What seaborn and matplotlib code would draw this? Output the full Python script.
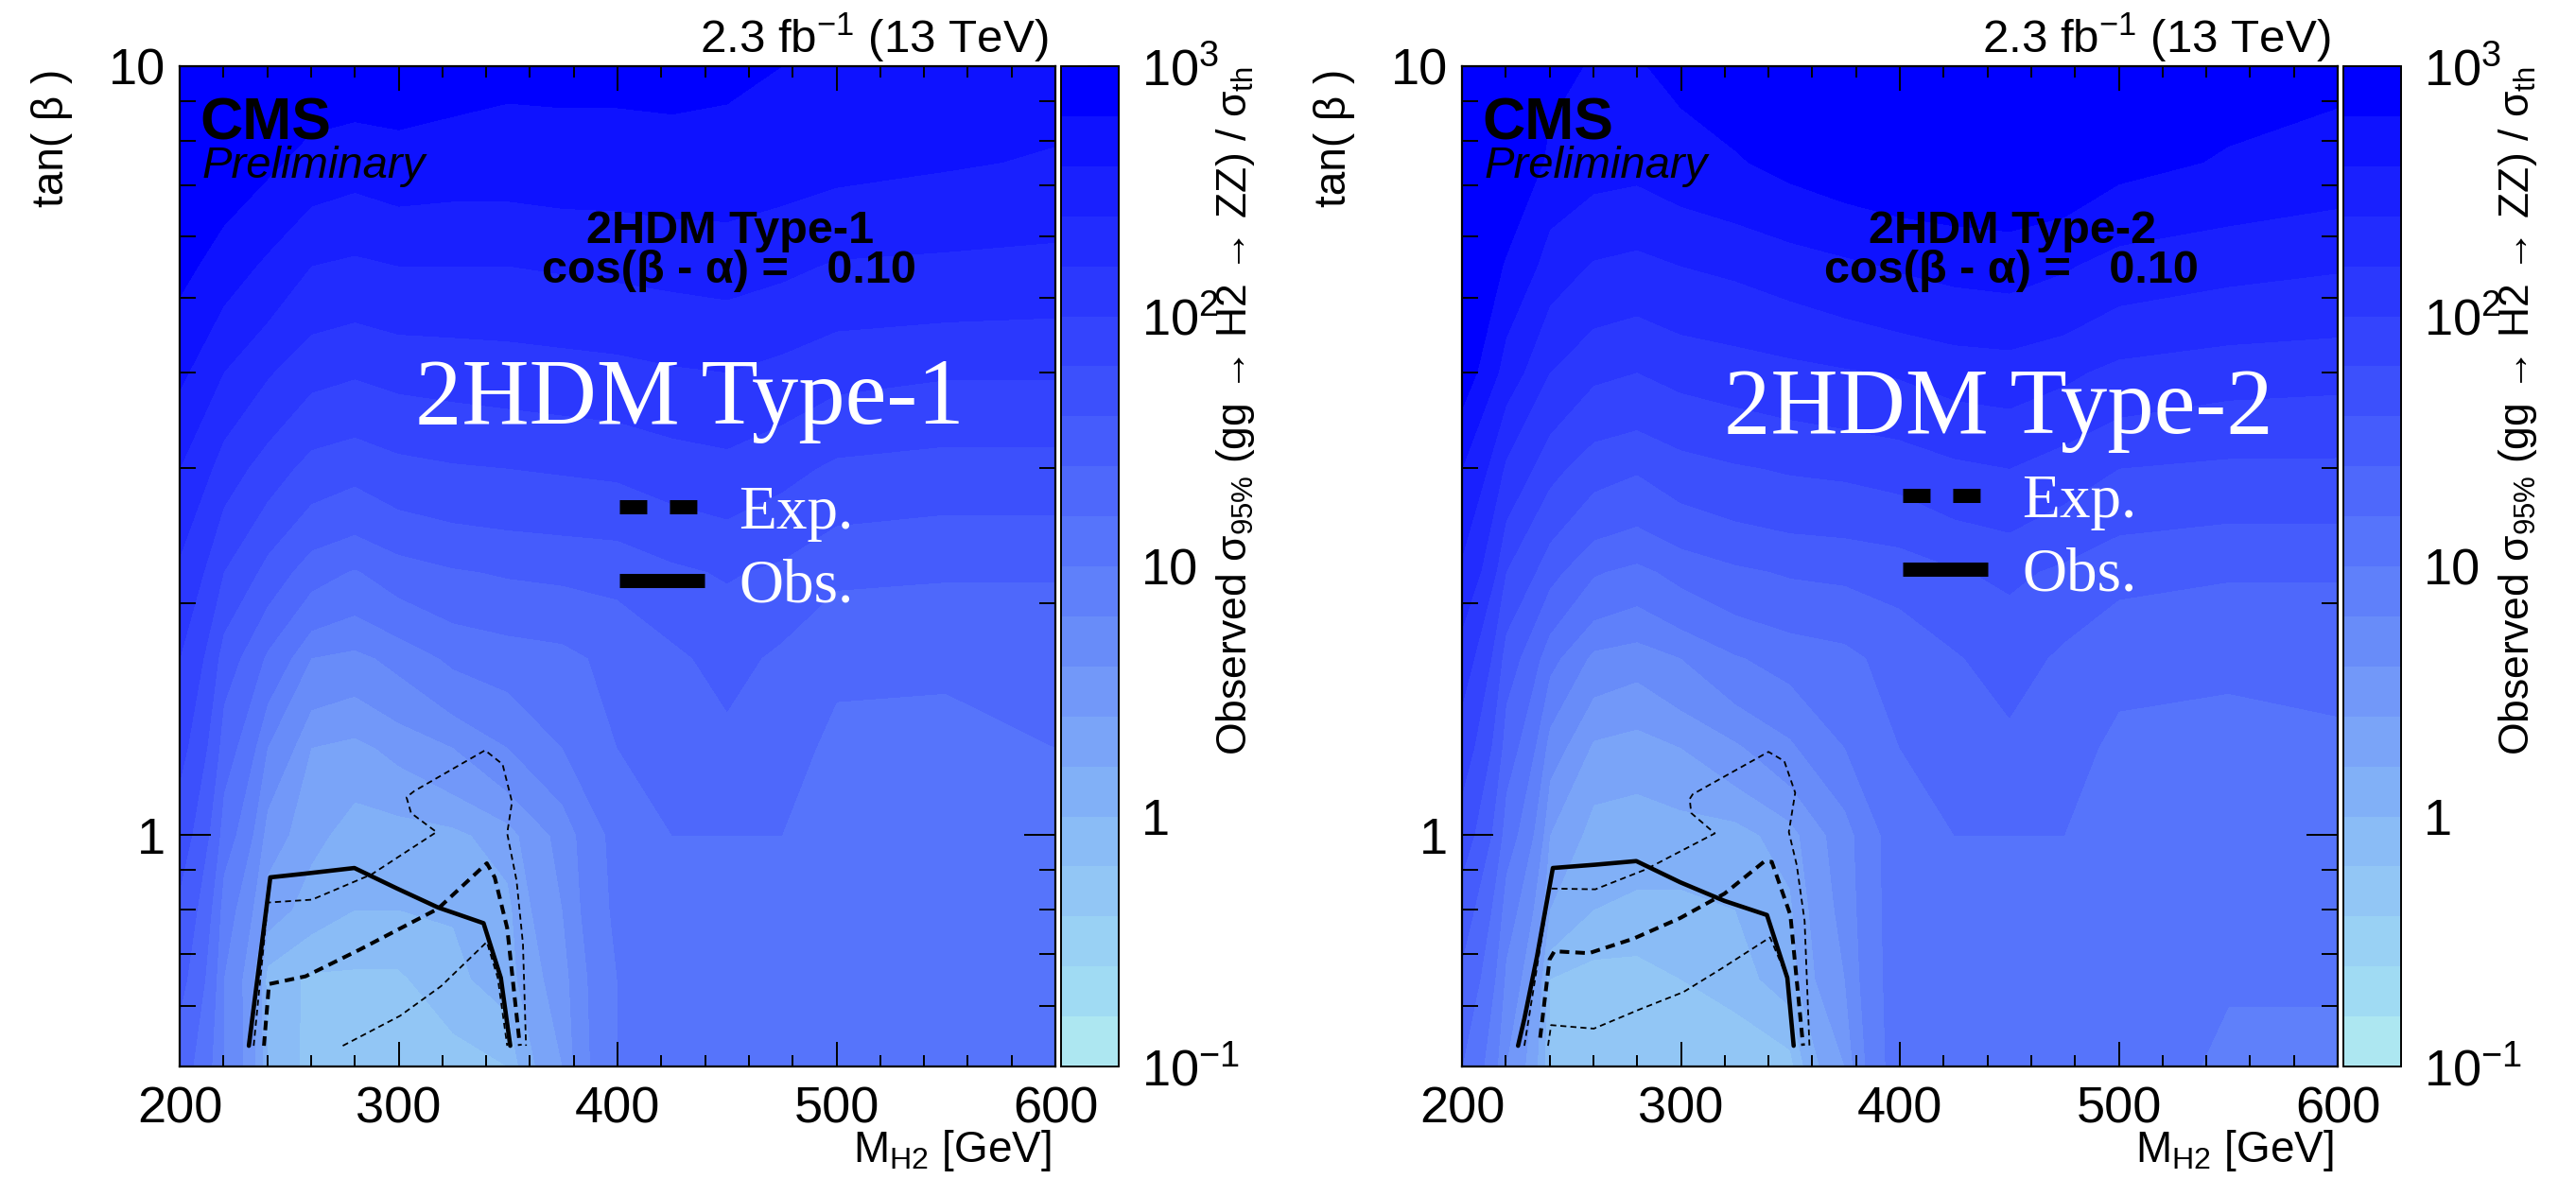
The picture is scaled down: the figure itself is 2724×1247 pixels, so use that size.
import numpy as np
import matplotlib
matplotlib.use("Agg")
import matplotlib.pyplot as plt
import seaborn as sns
from matplotlib.colors import ListedColormap, LogNorm
from matplotlib.lines import Line2D
from matplotlib.ticker import LogLocator, NullFormatter, MultipleLocator

sns.set_style("ticks")
plt.rcParams["font.family"] = ["Liberation Sans", "DejaVu Sans"]
plt.rcParams["mathtext.fontset"] = "custom"
plt.rcParams["mathtext.rm"] = "Liberation Sans"
plt.rcParams["mathtext.it"] = "Liberation Sans:italic"
plt.rcParams["mathtext.bf"] = "Liberation Sans:bold"
for key in ["text.color", "axes.labelcolor", "xtick.color", "ytick.color", "axes.edgecolor"]:
    plt.rcParams[key] = "black"

# ---------------------------------------------------------------- scan grid
mass_grid = [200, 220, 240, 260, 280, 300, 325, 350, 375, 400, 425, 450, 475, 500, 550, 600]
tanb_grid = [0.5, 0.65, 0.8, 1.0, 1.3, 1.7, 2.2, 3.0, 4.0, 5.5, 7.5, 10.0]

# log10 of observed sigma_95% / sigma_th, one row per tan(beta) value
log_limit_type1 = [
    [1.30, 0.80, 0.00, -0.30, -0.30, -0.30, -0.30, -0.20, 0.40, 1.00, 1.20, 1.20, 1.20, 1.10, 1.04, 1.04],
    [1.46, 0.80, -0.10, -0.24, -0.24, -0.24, -0.06, 0.10, 0.50, 1.00, 1.20, 1.20, 1.20, 1.10, 1.04, 1.04],
    [1.56, 0.90, 0.30, 0.10, 0.00, 0.00, 0.02, 0.14, 0.60, 1.04, 1.20, 1.20, 1.20, 1.10, 1.04, 1.04],
    [1.70, 1.10, 0.50, 0.26, 0.10, 0.10, 0.14, 0.30, 0.66, 1.06, 1.20, 1.20, 1.20, 1.10, 1.04, 1.04],
    [1.86, 1.30, 0.80, 0.40, 0.34, 0.46, 0.60, 0.80, 1.00, 1.20, 1.24, 1.36, 1.26, 1.16, 1.14, 1.20],
    [2.00, 1.50, 1.16, 0.80, 0.74, 0.86, 1.04, 1.10, 1.14, 1.26, 1.36, 1.46, 1.36, 1.24, 1.24, 1.24],
    [2.16, 1.80, 1.52, 1.28, 1.18, 1.30, 1.38, 1.42, 1.44, 1.46, 1.56, 1.62, 1.56, 1.44, 1.42, 1.42],
    [2.40, 2.10, 1.90, 1.72, 1.66, 1.74, 1.78, 1.80, 1.82, 1.84, 1.90, 1.94, 1.86, 1.76, 1.72, 1.72],
    [2.64, 2.40, 2.22, 2.06, 2.02, 2.06, 2.08, 2.10, 2.12, 2.14, 2.18, 2.20, 2.14, 2.06, 2.02, 2.02],
    [2.86, 2.70, 2.56, 2.40, 2.36, 2.40, 2.40, 2.40, 2.42, 2.44, 2.46, 2.48, 2.44, 2.38, 2.36, 2.34],
    [3.02, 2.94, 2.84, 2.72, 2.68, 2.72, 2.70, 2.70, 2.72, 2.72, 2.74, 2.74, 2.70, 2.66, 2.62, 2.58],
    [3.10, 3.06, 3.00, 2.96, 2.94, 2.94, 2.90, 2.86, 2.86, 2.86, 2.86, 2.84, 2.80, 2.76, 2.74, 2.70],
]
log_limit_type2 = [
    [1.20, 0.60, -0.20, -0.40, -0.40, -0.40, -0.40, -0.30, 0.40, 1.10, 1.20, 1.20, 1.20, 1.10, 0.96, 0.96],
    [1.36, 0.76, -0.20, -0.30, -0.30, -0.20, -0.10, 0.10, 0.60, 1.10, 1.20, 1.20, 1.20, 1.10, 1.02, 1.02],
    [1.50, 0.90, 0.20, 0.00, -0.04, -0.04, 0.00, 0.16, 0.66, 1.10, 1.20, 1.20, 1.20, 1.10, 1.04, 1.04],
    [1.70, 1.10, 0.40, 0.10, 0.10, 0.10, 0.10, 0.30, 0.70, 1.10, 1.20, 1.20, 1.20, 1.10, 1.04, 1.04],
    [1.90, 1.30, 0.70, 0.36, 0.30, 0.40, 0.56, 0.76, 1.00, 1.20, 1.26, 1.36, 1.26, 1.16, 1.14, 1.18],
    [2.10, 1.50, 1.06, 0.74, 0.68, 0.80, 0.98, 1.08, 1.14, 1.28, 1.38, 1.48, 1.36, 1.26, 1.24, 1.24],
    [2.36, 1.80, 1.46, 1.22, 1.14, 1.26, 1.36, 1.42, 1.44, 1.48, 1.58, 1.64, 1.56, 1.46, 1.42, 1.42],
    [2.60, 2.16, 1.86, 1.68, 1.62, 1.72, 1.78, 1.82, 1.84, 1.88, 1.96, 2.00, 1.90, 1.80, 1.76, 1.76],
    [2.90, 2.50, 2.20, 2.04, 2.00, 2.06, 2.10, 2.14, 2.18, 2.22, 2.28, 2.30, 2.24, 2.14, 2.08, 2.06],
    [3.04, 2.78, 2.50, 2.38, 2.34, 2.40, 2.44, 2.50, 2.56, 2.62, 2.66, 2.68, 2.62, 2.52, 2.46, 2.42],
    [3.10, 2.98, 2.76, 2.68, 2.66, 2.72, 2.78, 2.86, 2.92, 2.96, 2.98, 3.00, 2.96, 2.86, 2.78, 2.72],
    [3.20, 3.10, 2.86, 2.78, 2.78, 2.86, 2.94, 3.02, 3.08, 3.10, 3.10, 3.10, 3.06, 2.98, 2.90, 2.86],
]

# ---------------------------------------------------------------- exclusion contours (M_H2 [GeV], tan beta)
obs1_mass = [231.6, 241.4, 257.5, 279.8, 299.3, 318.0, 338.8, 346.7, 351.0]
obs1_tanb = [0.532, 0.881, 0.891, 0.906, 0.852, 0.805, 0.768, 0.652, 0.532]
exp1_mass = [238.5, 240.8, 257.5, 282.0, 318.0, 340.3, 343.9, 349.6, 355.4]
exp1_tanb = [0.532, 0.640, 0.655, 0.709, 0.802, 0.919, 0.881, 0.757, 0.532]
exp1_lo_mass = [233.8, 240.3, 260.4, 287.7, 317.3, 305.7, 303.6, 307.2, 339.5, 347.5, 351.8, 349.6, 353.9, 356.8, 358.2]
exp1_lo_tanb = [0.532, 0.817, 0.824, 0.889, 1.009, 1.068, 1.120, 1.141, 1.289, 1.236, 1.104, 1.005, 0.872, 0.722, 0.532]
exp1_hi_mass = [274.5, 300.7, 319.4, 340.3, 345.3, 349.6]
exp1_hi_tanb = [0.532, 0.582, 0.636, 0.726, 0.652, 0.532]

obs2_mass = [225.6, 228.5, 234.3, 241.5, 260.9, 279.6, 299.7, 319.9, 339.3, 348.6, 351.5]
obs2_tanb = [0.532, 0.577, 0.696, 0.906, 0.915, 0.925, 0.868, 0.821, 0.787, 0.652, 0.532]
exp2_mass = [235.7, 240.0, 242.2, 258.0, 278.2, 299.7, 319.9, 337.9, 341.5, 350.0, 355.8]
exp2_tanb = [0.545, 0.689, 0.706, 0.702, 0.733, 0.780, 0.839, 0.923, 0.923, 0.787, 0.532]
exp2_lo_mass = [228.5, 240.0, 260.9, 283.9, 315.5, 304.7, 304.0, 305.4, 340.0, 347.2, 352.2, 349.3, 352.9, 356.5, 358.7]
exp2_lo_tanb = [0.532, 0.852, 0.850, 0.902, 1.005, 1.068, 1.114, 1.130, 1.283, 1.248, 1.135, 1.009, 0.914, 0.773, 0.532]
exp2_hi_mass = [239.3, 240.7, 260.2, 281.0, 301.2, 318.4, 340.7, 348.6, 351.5]
exp2_hi_tanb = [0.532, 0.566, 0.560, 0.593, 0.625, 0.670, 0.736, 0.652, 0.532]

models = ["Type-1", "Type-2"]
cbar_ticks = [0.1, 1, 10, 100, 1000]
cbar_ticklabels = [r"$10^{-1}$", "1", "10", r"$10^{2}$", r"$10^{3}$"]

band_colors = ["#ade7f1", "#a0dbf3", "#99d1f4", "#92c6f5", "#8abcf6", "#81b0f7", "#7aa4f8",
               "#7298f9", "#688cf9", "#5f80fa", "#5674fb", "#4e68fb", "#455cfc", "#3c50fc",
               "#3444fd", "#2b38fd", "#222cfe", "#1920fe", "#0e12ff", "#0000ff"]

# ---------------------------------------------------------------- figure
W, H = 2724, 1247
fig = plt.figure(figsize=(W / 100, H / 100), dpi=100)
levels = np.logspace(-1, 3, 21)
cmap = ListedColormap(band_colors)


def fx(px):
    return px / W


def fy(py):
    return 1 - py / H


panels = [
    dict(x0=0, grid=log_limit_type1, model=models[0],
         obs=(obs1_mass, obs1_tanb), exp=(exp1_mass, exp1_tanb),
         lo=(exp1_lo_mass, exp1_lo_tanb), hi=(exp1_hi_mass, exp1_hi_tanb),
         big=(729, 448), leg=(655, 582)),
    dict(x0=1356, grid=log_limit_type2, model=models[1],
         obs=(obs2_mass, obs2_tanb), exp=(exp2_mass, exp2_tanb),
         lo=(exp2_lo_mass, exp2_lo_tanb), hi=(exp2_hi_mass, exp2_hi_tanb),
         big=(757, 458), leg=(656, 570)),
]

for p in panels:
    x0 = p["x0"]
    ax = fig.add_axes([fx(x0 + 190), fy(1128), 926 / W, 1058 / H])
    cax = fig.add_axes([fx(x0 + 1122), fy(1128), 61 / W, 1058 / H])

    norm = LogNorm(vmin=0.1, vmax=1000)
    limit = np.clip(10.0 ** np.asarray(p["grid"]), 0.101, 990.0)
    cs = ax.contourf(mass_grid, tanb_grid, limit, levels=levels, cmap=cmap, norm=norm,
                     antialiased=False, zorder=0)

    thin = dict(color="black", lw=1.3, linestyle=(0, (3.5, 2.4)))
    sns.lineplot(x=p["lo"][0], y=p["lo"][1], ax=ax, sort=False, estimator=None, **thin)
    sns.lineplot(x=p["hi"][0], y=p["hi"][1], ax=ax, sort=False, estimator=None, **thin)
    sns.lineplot(x=p["exp"][0], y=p["exp"][1], ax=ax, sort=False, estimator=None,
                 color="black", lw=2.9, linestyle=(0, (2.5, 1.6)))
    sns.lineplot(x=p["obs"][0], y=p["obs"][1], ax=ax, sort=False, estimator=None,
                 color="black", lw=3.3)

    ax.set_yscale("log")
    ax.set_xlim(200, 600)
    ax.set_ylim(0.5, 10)
    ax.set_xlabel("")
    ax.set_ylabel("")
    ax.xaxis.set_major_locator(MultipleLocator(100))
    ax.xaxis.set_minor_locator(MultipleLocator(20))
    ax.set_yticks([1, 10], labels=["1", "10"])
    ax.yaxis.set_minor_locator(LogLocator(base=10, subs=np.arange(2, 10), numticks=30))
    ax.yaxis.set_minor_formatter(NullFormatter())
    ax.tick_params(which="both", direction="in", top=True, right=True, width=1.4,
                   color="black", labelsize=39, labelcolor="black")
    ax.tick_params(axis="x", which="major", length=18.7, pad=15)
    ax.tick_params(axis="x", which="minor", length=8.6)
    ax.tick_params(axis="y", which="major", length=23.8, pad=11)
    ax.tick_params(axis="y", which="minor", length=12)
    for s in ax.spines.values():
        s.set_linewidth(1.6)
        s.set_color("black")

    # colour scale
    cb = fig.colorbar(cs, cax=cax)
    cb.set_ticks(cbar_ticks, labels=cbar_ticklabels)
    cax.yaxis.set_minor_locator(LogLocator(base=10, subs=np.arange(2, 10), numticks=50))
    cax.yaxis.set_minor_formatter(NullFormatter())
    cax.tick_params(which="both", direction="in", right=True, left=False, width=1.4,
                    labelsize=39, color="black", labelcolor="black")
    cax.tick_params(which="major", length=23.8, pad=17)
    cax.tick_params(which="minor", length=11.5)
    cb.outline.set_linewidth(1.4)
    cb.outline.set_edgecolor("black")

    # legend for the exclusion contours
    handles = [Line2D([], [], color="black", lw=10.8, linestyle=(0, (1.93, 1.6)), dash_capstyle="butt"),
               Line2D([], [], color="black", lw=10.8, solid_capstyle="butt")]
    ax.legend(handles, ["Exp.", "Obs."], loc="center left",
              bbox_to_anchor=(fx(x0 + p["leg"][0]), fy(p["leg"][1])), bbox_transform=fig.transFigure,
              frameon=False, prop={"family": "Liberation Serif", "size": 47}, labelcolor="white",
              handlelength=1.38, handletextpad=0.55, labelspacing=0.28, borderpad=0, borderaxespad=0)

    # annotations
    fig.text(fx(x0 + 1109), fy(56), r"2.3 fb$^{-1}$ (13 TeV)", ha="right", va="baseline", fontsize=35.5)
    fig.text(fx(x0 + 211), fy(147), "CMS", ha="left", va="baseline", fontsize=45, fontweight="bold")
    fig.text(fx(x0 + 214), fy(188), "Preliminary", ha="left", va="baseline", fontsize=34, style="italic")
    fig.text(fx(x0 + 772), fy(257), "2HDM " + p["model"], ha="center", va="baseline",
             fontsize=35, fontweight="bold")
    fig.text(fx(x0 + 771), fy(299), "cos(β - α) =   0.10", ha="center", va="baseline",
             fontsize=35, fontweight="bold")
    fig.text(fx(x0 + p["big"][0]), fy(p["big"][1]), "2HDM " + p["model"], ha="center", va="baseline",
             fontsize=71, color="white", family="Liberation Serif")
    fig.text(fx(x0 + 67), fy(73), "tan( β )", rotation=90, rotation_mode="anchor",
             ha="right", va="baseline", fontsize=33)
    fig.text(fx(x0 + 1112), fy(1229), r"M$_{\mathrm{H2}}$ [GeV]", ha="right", va="baseline", fontsize=33)
    fig.text(fx(x0 + 1318), fy(70),
             r"Observed σ$_{95\%}$ (gg → H2 → ZZ) / σ$_{\mathrm{th}}$",
             rotation=90, rotation_mode="anchor", ha="right", va="baseline", fontsize=32)

fig.savefig("out.png", dpi=100)
